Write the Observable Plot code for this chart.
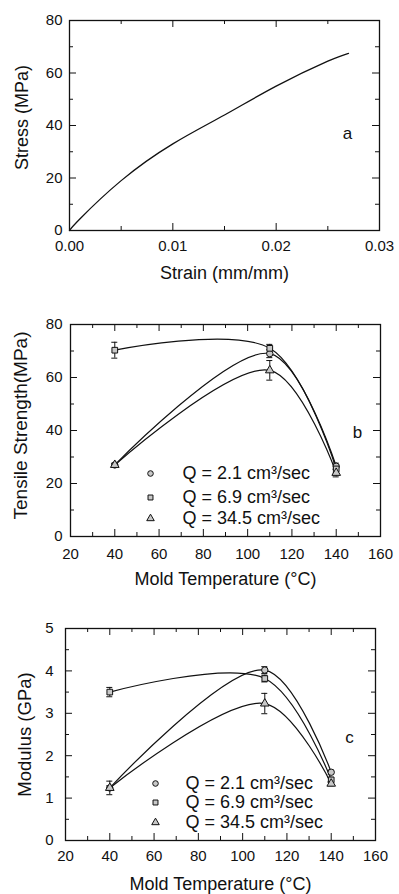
<!DOCTYPE html>
<html><head><meta charset="utf-8">
<script src="https://cdn.jsdelivr.net/npm/d3@7"></script>
<script src="https://cdn.jsdelivr.net/npm/@observablehq/plot@0.6"></script>
<style>
body{margin:0;background:#fff;}
#chart{width:399px;}
#chart svg{display:block;}
</style>
</head><body><div id="chart"></div>
<script>
// ---- Panel a: stress–strain curve ----
const strain = [0, 0.001, 0.005, 0.01, 0.015, 0.02, 0.025, 0.027];
const stress = [0, 4.4, 19, 33, 44, 55, 64.5, 67.5];
const strainTicks = [0, 0.01, 0.02, 0.03];
const stressTicks = [0, 20, 40, 60, 80];

// ---- Panels b, c: mold temperature series ----
const moldTemp = [40, 110, 140];
const seriesLabels = ["Q = 2.1 cm³/sec", "Q = 6.9 cm³/sec", "Q = 34.5 cm³/sec"];
const seriesSymbols = ["circle", "square", "triangle"];

const strengthQ21 = [27, 69, 26.5];
const strengthQ69 = [70.3, 71, 25.5];
const strengthQ345 = [27, 62.7, 24];
const strengthErrQ21 = [0.6, 1.5, 1.2];
const strengthErrQ69 = [3, 1.5, 1.5];
const strengthErrQ345 = [0.6, 3.7, 1.5];

const modulusQ21 = [1.24, 4.02, 1.61];
const modulusQ69 = [3.5, 3.82, 1.43];
const modulusQ345 = [1.24, 3.23, 1.34];
const modulusErrQ21 = [0.05, 0.08, 0.05];
const modulusErrQ69 = [0.11, 0.08, 0.06];
const modulusErrQ345 = [0.16, 0.24, 0.05];

const tempTicks = [20, 40, 60, 80, 100, 120, 140, 160];
const strengthTicks = [0, 20, 40, 60, 80];
const modulusTicks = [0, 1, 2, 3, 4, 5];

const INK = "#111";
const FONT = "'Liberation Sans', Arial, Helvetica, sans-serif";

function rowsFrom(values, errors) {
  const rows = [];
  values.forEach((vals, s) => vals.forEach((v, i) => rows.push({
    series: seriesLabels[s], symbol: seriesSymbols[s], x: moldTemp[i], y: v, err: errors[s][i]
  })));
  return rows;
}

function panel(o) {
  const W = 399;
  const fw = W - o.ml - o.mr, fh = o.h - o.mt - o.mb;
  const MAJ = 7, MIN = 4;
  const tk = {stroke: INK, strokeWidth: 1};
  const marks = [
    Plot.frame({stroke: INK, strokeWidth: 1.3}),
    Plot.tickX(o.xMajor, {x: d => d, insetTop: fh - MAJ, ...tk}),
    Plot.tickX(o.xMajor, {x: d => d, insetBottom: fh - MAJ, ...tk}),
    Plot.tickX(o.xMinor, {x: d => d, insetTop: fh - MIN, ...tk}),
    Plot.tickX(o.xMinor, {x: d => d, insetBottom: fh - MIN, ...tk}),
    Plot.tickY(o.yMajor, {y: d => d, insetRight: fw - MAJ, ...tk}),
    Plot.tickY(o.yMajor, {y: d => d, insetLeft: fw - MAJ, ...tk}),
    Plot.tickY(o.yMinor, {y: d => d, insetRight: fw - MIN, ...tk}),
    Plot.tickY(o.yMinor, {y: d => d, insetLeft: fw - MIN, ...tk}),
    Plot.axisX(o.xMajor, {tickSize: 0, tickPadding: o.xPad, tickFormat: o.xFmt, label: null, fill: INK}),
    Plot.axisY(o.yMajor, {tickSize: 0, tickPadding: o.yPad, tickFormat: d => String(d), label: null, fill: INK}),
    Plot.text([o.xTitle], {frameAnchor: "bottom", dy: o.xTitleDy, text: d => d, fontSize: o.titleSize, fill: INK, textAnchor: "middle", lineAnchor: "middle"}),
    Plot.text([o.yTitle], {frameAnchor: "left", dx: o.yTitleDx, dy: o.yTitleDy, text: d => d, rotate: -90, fontSize: o.yTitleSize, fill: INK, textAnchor: "middle", lineAnchor: "middle"}),
    Plot.text([o.letter], {frameAnchor: "top-left", dx: o.letterDx, dy: o.letterDy, text: d => d, fontSize: 17, fill: INK, textAnchor: "middle", lineAnchor: "middle"}),
    ...o.marks
  ];
  return Plot.plot({
    width: W, height: o.h,
    marginLeft: o.ml, marginRight: o.mr, marginTop: o.mt, marginBottom: o.mb,
    x: {type: "linear", domain: o.xDomain},
    y: {type: "linear", domain: o.yDomain},
    style: {fontFamily: FONT, fontSize: "15px", color: INK, background: "#fff", overflow: "visible"},
    marks
  });
}

function seriesMarks(rows, legend) {
  const out = [
    Plot.line(rows, {x: "x", y: "y", z: "series", curve: "catmull-rom", stroke: INK, strokeWidth: 1.2}),
    Plot.ruleX(rows, {x: "x", y1: d => d.y - d.err, y2: d => d.y + d.err, stroke: INK, strokeWidth: 1}),
    Plot.ruleY(rows, {x1: "x", x2: "x", y: d => d.y - d.err, insetLeft: -3, insetRight: -3, stroke: INK, strokeWidth: 1}),
    Plot.ruleY(rows, {x1: "x", x2: "x", y: d => d.y + d.err, insetLeft: -3, insetRight: -3, stroke: INK, strokeWidth: 1}),
    Plot.dot(rows, {x: "x", y: "y", symbol: "symbol", r: 3.2, fill: "#c8c8c8", stroke: INK, strokeWidth: 1})
  ];
  seriesLabels.forEach((lab, i) => {
    out.push(Plot.dot([lab], {frameAnchor: "top-left", dx: legend.symX, dy: legend.rows[i], symbol: seriesSymbols[i], r: 2.8, fill: "#c8c8c8", stroke: INK, strokeWidth: 1}));
    out.push(Plot.text([lab], {frameAnchor: "top-left", dx: legend.textX, dy: legend.rows[i], text: d => d, textAnchor: "start", lineAnchor: "middle", fontSize: legend.size, fill: INK}));
  });
  return out;
}

const strainRows = strain.map((s, i) => ({strain: s, stress: stress[i]}));
const strengthRows = rowsFrom([strengthQ21, strengthQ69, strengthQ345], [strengthErrQ21, strengthErrQ69, strengthErrQ345]);
const modulusRows = rowsFrom([modulusQ21, modulusQ69, modulusQ345], [modulusErrQ21, modulusErrQ69, modulusErrQ345]);

const chart = document.getElementById("chart");

chart.append(panel({
  h: 300, ml: 69, mr: 20, mt: 20, mb: 70,
  xDomain: [0, 0.03], yDomain: [0, 80],
  xMajor: strainTicks, xMinor: d3.range(0.005, 0.03, 0.01),
  yMajor: stressTicks, yMinor: d3.range(10, 80, 20),
  xFmt: d3.format(".2f"), xPad: 10, yPad: 7,
  xTitle: "Strain (mm/mm)", xTitleDy: 43, titleSize: 18,
  yTitle: "Stress (MPa)", yTitleSize: 18, yTitleDx: -47, yTitleDy: -8,
  letter: "a", letterDx: 278, letterDy: 113,
  marks: [Plot.line(strainRows, {x: "strain", y: "stress", curve: "natural", stroke: INK, strokeWidth: 1.3})]
}));

chart.append(panel({
  h: 300, ml: 70, mr: 19, mt: 24, mb: 64,
  xDomain: [20, 160], yDomain: [0, 80],
  xMajor: tempTicks, xMinor: d3.range(30, 160, 20),
  yMajor: strengthTicks, yMinor: d3.range(10, 80, 20),
  xFmt: d => String(d), xPad: 12, yPad: 8,
  xTitle: "Mold Temperature (°C)", xTitleDy: 43, titleSize: 18,
  yTitle: "Tensile Strength(MPa)", yTitleSize: 19, yTitleDx: -50, yTitleDy: -5,
  letter: "b", letterDx: 287, letterDy: 108,
  marks: seriesMarks(strengthRows, {symX: 80, textX: 112, rows: [149, 173, 194], size: 18})
}));

chart.append(panel({
  h: 294, ml: 65, mr: 24, mt: 28, mb: 54,
  xDomain: [20, 160], yDomain: [0, 5],
  xMajor: tempTicks, xMinor: d3.range(30, 160, 20),
  yMajor: modulusTicks, yMinor: d3.range(0.5, 5, 1),
  xFmt: d => String(d), xPad: 10, yPad: 12,
  xTitle: "Mold Temperature (°C)", xTitleDy: 44, titleSize: 18,
  yTitle: "Modulus (GPa)", yTitleSize: 18.5, yTitleDx: -40, yTitleDy: 0,
  letter: "c", letterDx: 284, letterDy: 109,
  marks: seriesMarks(modulusRows, {symX: 90, textX: 120, rows: [155, 174, 194], size: 18})
}));
</script>
</body></html>
